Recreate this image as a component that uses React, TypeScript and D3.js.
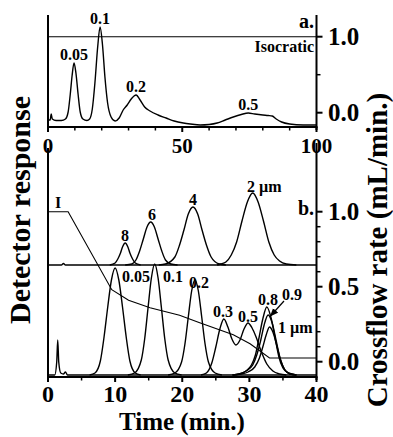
import * as d3 from 'd3';

// panel a: isocratic run, time 0-100 min
const traceA: [number, number][] = [
  [0, 7], [0.8, 7], [1.2, 13], [1.6, 8], [3, 6.5], [5, 6.5], [6.5, 8], [7.5, 15], [8.3, 33], [9, 52],
  [9.7, 64], [10.4, 54], [11.2, 33], [12, 15], [13, 8], [14.5, 6.5], [15.5, 8], [16.5, 18], [17.5, 45],
  [18.5, 80], [19.4, 100], [20.3, 82], [21.2, 50], [22.2, 24], [23.5, 10], [25, 6], [26.5, 9], [28, 17],
  [29.5, 22], [31, 28], [32.8, 32], [34.3, 27], [36, 20], [38, 16], [41, 12], [44, 9], [47, 6], [50.4, 4],
  [53, 3], [56.7, 2], [60, 2.5], [63, 4], [66, 7], [69, 10], [72, 12.5], [74.6, 14], [77, 13], [80, 12],
  [82, 11.5], [83.5, 11], [85, 8], [87, 5], [90, 3], [95, 2], [100, 2],
];
const crossflowA: [number, number][] = [[0, 1.0], [100, 1.0]];
const labelsA = [
  { text: '0.05', t: 9.7, v: 64 },
  { text: '0.1', t: 19.4, v: 100 },
  { text: '0.2', t: 32.8, v: 32 },
  { text: '0.5', t: 74.6, v: 14 },
];

// panel b: programmed crossflow, time 0-40 min
const baseLower: [number, number][] = [
  [0, 2], [1.0, 2], [1.3, 15], [1.45, 37], [1.6, 15], [1.9, 4], [2.3, 3], [2.6, 5], [2.9, 2], [40, 2],
];
const baseUpper: [number, number][] = [[0, 112], [2, 112], [2.3, 113.5], [2.6, 112], [40, 112]];
const peaksLower: [number, number][][] = [
  [[6.2, 2], [7, 4], [7.8, 16], [8.35, 40], [8.9, 70], [9.45, 97], [10, 109], [10.55, 97], [11.1, 70], [11.65, 40], [12.2, 16], [13, 4], [13.8, 2]],
  [[11.9, 2], [12.9, 4], [13.9, 17], [14.4, 38], [14.9, 69], [15.4, 99], [15.9, 113], [16.4, 99], [16.9, 69], [17.4, 38], [17.9, 17], [18.9, 4], [19.9, 2]],
  [[17.9, 2], [18.9, 4], [19.9, 15], [20.4, 33], [20.9, 60], [21.4, 86], [21.9, 97], [22.4, 86], [22.9, 60], [23.4, 33], [23.9, 15], [24.9, 4], [25.9, 2]],
  [[22.8, 2], [23.6, 4], [24.4, 14], [25, 30], [25.6, 48], [26.2, 58], [26.8, 50], [27.4, 38], [28, 32], [28.6, 37], [29.2, 48], [29.8, 54], [30.4, 49], [31, 40], [31.8, 25], [32.6, 13], [33.5, 6], [34.5, 3], [35.5, 2]],
  [[27.5, 2], [28.5, 3], [29.5, 6], [30.3, 12], [30.9, 22], [31.4, 38], [32, 58], [32.6, 70], [33.2, 60], [33.8, 40], [34.4, 20], [35, 9], [35.8, 4], [37, 2]],
  [[27.5, 2], [28.5, 3], [29.5, 6], [30.5, 12], [31.1, 22], [31.7, 37], [32.2, 52], [32.8, 62], [33.4, 54], [34, 36], [34.6, 18], [35.2, 8], [36, 3.5], [37, 2]],
  [[27.5, 2], [28.8, 3], [29.8, 5], [30.8, 10], [31.5, 19], [32, 30], [32.5, 42], [33, 50], [33.5, 45], [34.1, 31], [34.7, 16], [35.3, 7], [36, 3], [37, 2]],
];
const peaksUpper: [number, number][][] = [
  [[9.2, 112], [10, 114], [10.4, 118], [10.8, 124], [11.1, 130], [11.5, 134], [11.9, 130], [12.2, 124], [12.6, 118], [13, 114], [13.8, 112]],
  [[11.5, 112], [12.5, 113], [13.1, 117], [13.65, 126], [14.2, 138], [14.75, 150], [15.3, 155], [15.85, 150], [16.4, 138], [16.95, 126], [17.5, 117], [18.3, 113], [19.3, 112]],
  [[16.5, 112], [17.5, 113], [18.9, 120], [19.6, 132], [20.25, 147], [20.9, 163], [21.6, 170], [22.3, 163], [22.95, 147], [23.6, 132], [24.3, 120], [25.5, 113], [26.5, 112]],
  [[25.2, 112], [25.7, 113], [26.5, 115], [27.3, 122], [28.1, 135], [28.9, 156], [29.7, 175], [30.5, 184], [31.3, 175], [32.1, 156], [32.9, 135], [33.7, 122], [34.5, 116], [35.5, 113], [37, 112]],
];
const crossflowB: [number, number][] = [
  [0, 1.0], [3, 1.0], [9.5, 0.48], [12, 0.41], [15.2, 0.36], [19.6, 0.31], [22.6, 0.26], [27.6, 0.18],
  [30.1, 0.12], [33, 0.025], [40, 0.025],
];

const ticksAx = [0, 50, 100];
const minorAx = [10, 20, 30, 40, 60, 70, 80, 90];
const ticksAy = [0, 1];
const minorAy = [0.5];
const ticksBx = [0, 10, 20, 30, 40];
const minorBx = [5, 15, 25, 35];
const ticksBy = [0, 0.5, 1];
const minorBy = [0.1, 0.2, 0.3, 0.4, 0.6, 0.7, 0.8, 0.9];

const FONT = '"Liberation Serif", "Times New Roman", serif';

export default function App() {
  const x0 = 48, x1 = 316.5;
  const xA = d3.scaleLinear().domain([0, 100]).range([x0, x1]);
  const yA = d3.scaleLinear().domain([0, 1]).range([112.7, 36.7]);
  const dA = d3.scaleLinear().domain([0, 112]).range([127, 15]);
  const xB = d3.scaleLinear().domain([0, 40]).range([x0, x1]);
  const yB = d3.scaleLinear().domain([0, 1]).range([361.7, 211.7]);
  const dB = d3.scaleLinear().domain([0, 230]).range([377, 147]);

  const lineA = d3.line<[number, number]>().x(d => xA(d[0])).y(d => dA(d[1])).curve(d3.curveMonotoneX);
  const flowA = d3.line<[number, number]>().x(d => xA(d[0])).y(d => yA(d[1]));
  const lineB = d3.line<[number, number]>().x(d => xB(d[0])).y(d => dB(d[1])).curve(d3.curveMonotoneX);
  const flowB = d3.line<[number, number]>().x(d => xB(d[0])).y(d => yB(d[1]));

  const axis = { stroke: '#000', strokeWidth: 2, fill: 'none' };
  const trace = { stroke: '#000', strokeWidth: 1.4, fill: 'none' };
  const lbl = { fontFamily: FONT, fontWeight: 'bold' as const, fill: '#000' };

  return (
    <svg width={393} height={437} style={{ position: 'absolute', left: 0, top: 0, background: '#fff' }}>
      {/* ---------- panel a ---------- */}
      <path d={flowA(crossflowA)!} stroke="#000" strokeWidth={1.1} fill="none" />
      <path d={lineA(traceA)!} {...trace} />
      <line x1={x0} x2={x0} y1={15} y2={127} {...axis} />
      <line x1={x0 - 1} x2={x1 + 1} y1={127} y2={127} {...axis} />
      <line x1={x1} x2={x1} y1={15} y2={130} {...axis} />
      {ticksAx.map(t => <line key={'ta' + t} x1={xA(t)} x2={xA(t)} y1={127} y2={132} {...axis} />)}
      {minorAx.map(t => <line key={'ma' + t} x1={xA(t)} x2={xA(t)} y1={127} y2={130.5} stroke="#000" strokeWidth={1.5} />)}
      {ticksAx.map(t => (
        <text key={'la' + t} x={xA(t)} y={153} textAnchor="middle" fontSize={21} {...lbl}>{t}</text>
      ))}
      {ticksAy.map(v => <line key={'tay' + v} x1={x1} x2={x1 + 6} y1={yA(v)} y2={yA(v)} {...axis} />)}
      {minorAy.map(v => <line key={'may' + v} x1={x1} x2={x1 + 4} y1={yA(v)} y2={yA(v)} stroke="#000" strokeWidth={1.5} />)}
      {ticksAy.map(v => (
        <text key={'lay' + v} x={328} y={yA(v) + 8.5} fontSize={25} {...lbl}>{v.toFixed(1)}</text>
      ))}
      {labelsA.map(l => (
        <text key={l.text} x={xA(l.t)} y={dA(l.v) - 3} textAnchor="middle" fontSize={16} {...lbl}>{l.text}</text>
      ))}
      <text x={314} y={28} textAnchor="end" fontSize={20} {...lbl}>a.</text>
      <text x={314} y={52} textAnchor="end" fontSize={16} {...lbl}>Isocratic</text>

      {/* ---------- panel b ---------- */}
      <path d={flowB(crossflowB)!} stroke="#000" strokeWidth={1.1} fill="none" />
      <path d={lineB(baseUpper)!} {...trace} />
      {peaksUpper.map((p, i) => <path key={'pu' + i} d={lineB(p)!} {...trace} />)}
      <path d={lineB(baseLower)!} {...trace} />
      {peaksLower.map((p, i) => <path key={'pl' + i} d={lineB(p)!} {...trace} />)}
      <line x1={x0} x2={x0} y1={148} y2={377} {...axis} />
      <line x1={x0 - 1} x2={x1 + 1} y1={377} y2={377} {...axis} />
      <line x1={x1} x2={x1} y1={143} y2={380} {...axis} />
      {ticksBx.map(t => <line key={'tb' + t} x1={xB(t)} x2={xB(t)} y1={377} y2={382} {...axis} />)}
      {minorBx.map(t => <line key={'mb' + t} x1={xB(t)} x2={xB(t)} y1={377} y2={380.5} stroke="#000" strokeWidth={1.5} />)}
      {ticksBx.map(t => (
        <text key={'lb' + t} x={xB(t)} y={402} textAnchor="middle" fontSize={24} {...lbl}>{t}</text>
      ))}
      {ticksBy.map(v => <line key={'tby' + v} x1={x1} x2={x1 + 6} y1={yB(v)} y2={yB(v)} {...axis} />)}
      {minorBy.map(v => <line key={'mby' + v} x1={x1} x2={x1 + 4} y1={yB(v)} y2={yB(v)} stroke="#000" strokeWidth={1.5} />)}
      {ticksBy.map(v => (
        <text key={'lby' + v} x={328} y={yB(v) + 8.5} fontSize={25} {...lbl}>{v.toFixed(1)}</text>
      ))}

      <text x={125} y={241} textAnchor="middle" fontSize={16} {...lbl}>8</text>
      <text x={152} y={220} textAnchor="middle" fontSize={16} {...lbl}>6</text>
      <text x={193} y={205} textAnchor="middle" fontSize={16} {...lbl}>4</text>
      <text x={247} y={192} fontSize={16} {...lbl}>2 µm</text>
      <text x={58} y={208} textAnchor="middle" fontSize={16} {...lbl}>I</text>
      <text x={314} y={215} textAnchor="end" fontSize={20} {...lbl}>b.</text>
      <text x={122} y={282} fontSize={16} {...lbl}>0.05</text>
      <text x={163} y={282} fontSize={16} {...lbl}>0.1</text>
      <text x={189} y={288} fontSize={16} {...lbl}>0.2</text>
      <text x={213} y={317} fontSize={16} {...lbl}>0.3</text>
      <text x={238} y={322} fontSize={16} {...lbl}>0.5</text>
      <text x={258} y={305} fontSize={16} {...lbl}>0.8</text>
      <text x={282} y={300} fontSize={16} {...lbl}>0.9</text>
      <text x={278} y={333} fontSize={16} {...lbl}>1 µm</text>
      <defs>
        <marker id="arr" viewBox="0 0 10 10" refX={9} refY={5} markerWidth={7} markerHeight={7} orient="auto">
          <path d="M0,1 L10,5 L0,9 z" fill="#000" />
        </marker>
      </defs>
      <line x1={284} y1={301} x2={270.5} y2={316} stroke="#000" strokeWidth={1.2} markerEnd="url(#arr)" />

      <text x={182} y={430} textAnchor="middle" fontSize={25} {...lbl}>Time (min.)</text>
      <text transform="translate(30,210) rotate(-90)" textAnchor="middle" fontSize={30} {...lbl}>Detector response</text>
      <text transform="translate(387,250) rotate(-90)" textAnchor="middle" fontSize={29} {...lbl}>Crossflow rate (mL/min.)</text>
    </svg>
  );
}
